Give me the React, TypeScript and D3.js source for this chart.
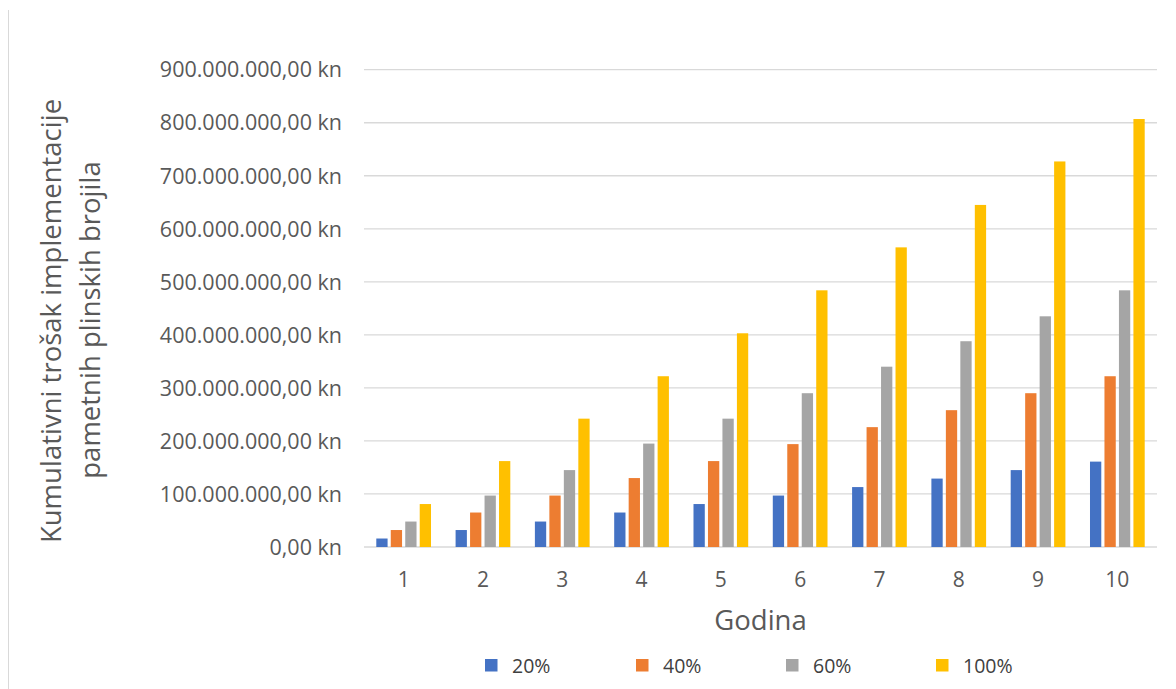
import React from "react";
import * as d3 from "d3";

const years = ["1", "2", "3", "4", "5", "6", "7", "8", "9", "10"];
const seriesNames = ["20%", "40%", "60%", "100%"];
const seriesColors = ["#4472C4", "#ED7D31", "#A5A5A5", "#FFC000"];
// values in millions of kn
const s20 = [16, 32, 48, 65, 81, 97, 113, 129, 145, 161];
const s40 = [32, 65, 97, 130, 162, 194, 226, 258, 290, 322];
const s60 = [48, 97, 145, 195, 242, 290, 340, 388, 435, 484];
const s100 = [81, 162, 242, 322, 403, 484, 565, 645, 727, 807];
const yTicks = [0, 100, 200, 300, 400, 500, 600, 700, 800, 900];
const yTitle1 = "Kumulativni trošak implementacije";
const yTitle2 = "pametnih plinskih brojila";
const xTitle = "Godina";

const W = 1176;
const H = 689;
const FONT = "'Open Sans', 'Noto Sans', sans-serif";

const hr = d3.formatLocale({
  decimal: ",",
  thousands: ".",
  grouping: [3],
  currency: ["", " kn"],
});
const fmt = hr.format(",.2f");

export default function App() {
  const series = [s20, s40, s60, s100];
  const x0 = d3
    .scaleBand<string>()
    .domain(years)
    .range([364, 1157])
    .paddingInner(0.31)
    .paddingOuter(0.155);
  const x1 = d3
    .scaleBand<string>()
    .domain(seriesNames)
    .range([0, x0.bandwidth()])
    .paddingInner(0.22)
    .paddingOuter(0);
  const y = d3.scaleLinear().domain([0, 900]).range([547, 69.7]);

  const legendX = [485, 636, 786, 936];

  return (
    <svg
      width={W}
      height={H}
      style={{ position: "absolute", left: 0, top: 0, background: "#fff" }}
      fontFamily={FONT}
    >
      <rect x={0} y={0} width={W} height={H} fill="#fff" />
      <line x1={8.5} x2={8.5} y1={10} y2={H} stroke="#d9d9d9" strokeWidth={1} />
      {/* gridlines */}
      {yTicks.map((t) => (
        <line
          key={"g" + t}
          x1={364}
          x2={1157}
          y1={y(t)}
          y2={y(t)}
          stroke="#d9d9d9"
          strokeWidth={1.3}
        />
      ))}
      {/* y tick labels */}
      {yTicks.map((t) => (
        <text
          key={"t" + t}
          x={342}
          y={y(t)}
          dy="0.36em"
          textAnchor="end"
          fontSize={21.5}
          fill="#595959"
        >
          {fmt(t * 1e6) + " kn"}
        </text>
      ))}
      {/* bars */}
      {years.map((yr, i) => (
        <g key={"yr" + yr} transform={`translate(${x0(yr)},0)`}>
          {seriesNames.map((s, j) => (
            <rect
              key={s}
              x={x1(s)}
              y={y(series[j][i])}
              width={x1.bandwidth()}
              height={y(0) - y(series[j][i])}
              fill={seriesColors[j]}
            />
          ))}
        </g>
      ))}
      {/* x tick labels */}
      {years.map((yr) => (
        <text
          key={"x" + yr}
          x={(x0(yr) as number) + x0.bandwidth() / 2}
          y={579}
          dy="0.36em"
          textAnchor="middle"
          fontSize={21}
          fill="#595959"
        >
          {yr}
        </text>
      ))}
      {/* x title */}
      <text x={760.5} y={630} textAnchor="middle" fontSize={27.5} fill="#595959">
        {xTitle}
      </text>
      {/* y title */}
      <text
        transform="translate(61,321) rotate(-90)"
        textAnchor="middle"
        fontSize={27.5}
        fill="#595959"
      >
        {yTitle1}
      </text>
      <text
        transform="translate(100,320) rotate(-90)"
        textAnchor="middle"
        fontSize={27.5}
        fill="#595959"
      >
        {yTitle2}
      </text>
      {/* legend */}
      {seriesNames.map((s, j) => (
        <g key={"l" + s}>
          <rect x={legendX[j]} y={659} width={12.5} height={12.5} fill={seriesColors[j]} />
          <text
            x={legendX[j] + 27}
            y={665.5}
            dy="0.36em"
            fontSize={19.5}
            fill="#404040"
          >
            {s}
          </text>
        </g>
      ))}
    </svg>
  );
}
